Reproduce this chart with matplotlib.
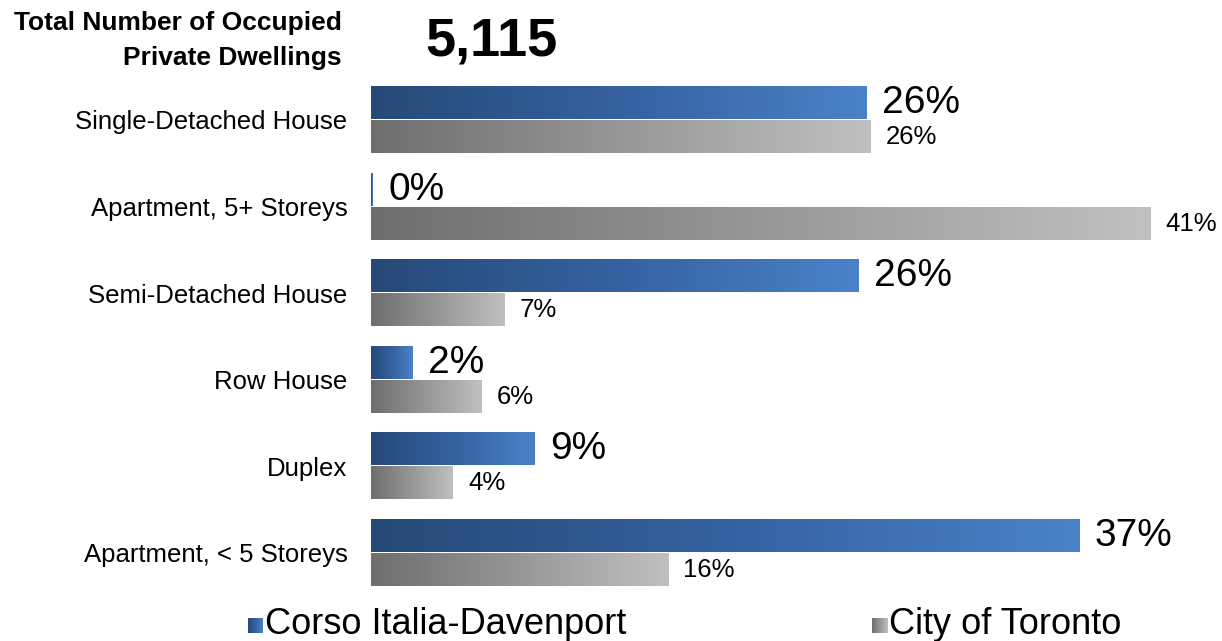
import numpy as np
import matplotlib
matplotlib.use("Agg")
import matplotlib.pyplot as plt
from matplotlib.colors import LinearSegmentedColormap

plt.rcParams['font.family'] = ['Liberation Sans', 'DejaVu Sans']

categories = ["Single-Detached House", "Apartment, 5+ Storeys", "Semi-Detached House",
              "Row House", "Duplex", "Apartment, < 5 Storeys"]
corso = [26.0, 0.1, 25.6, 2.2, 8.6, 37.2]
toronto = [26.2, 40.9, 7.0, 5.8, 4.3, 15.6]
series_names = ["Corso Italia-Davenport", "City of Toronto"]
total_label = "Total Number of Occupied"
total_label2 = "Private Dwellings"
total_value = "5,115"

blue_cm = LinearSegmentedColormap.from_list("b", ["#264a77", "#3561a0", "#4a82c8"])
gray_cm = LinearSegmentedColormap.from_list("g", ["#6e6e6e", "#c0c0c0"])
grad = np.linspace(0, 1, 256).reshape(1, -1)

W, H = 1222, 641
fig = plt.figure(figsize=(W / 100, H / 100), dpi=100)

# axes: x=0 at px 371, 19.05 px per unit; group 0 centre at px 120, 86.6 px apart
x0 = 371
ppu = 19.05
xmax = (W - x0) / ppu
top_px = 120 - 0.55 * 86.6
bot_px = 120 + 5.6 * 86.6
ax = fig.add_axes([x0 / W, 1 - bot_px / H, 1 - x0 / W, (bot_px - top_px) / H])

bh = 0.37
off = 0.196
for i, (a, b) in enumerate(zip(corso, toronto)):
    yb = i - off
    yg = i + off
    ax.imshow(grad, cmap=blue_cm, extent=(0, a, yb + bh / 2, yb - bh / 2),
              aspect='auto', interpolation='bilinear')
    ax.imshow(grad, cmap=gray_cm, extent=(0, b, yg + bh / 2, yg - bh / 2),
              aspect='auto', interpolation='bilinear')
    ax.text(a + 0.8, yb, f"{a:.0f}%", fontsize=28, va='center', ha='left')
    ax.text(b + 0.8, yg, f"{b:.0f}%", fontsize=18.5, va='center', ha='left')

ax.set_xlim(0, xmax)
ax.set_ylim(5.6, -0.55)
ax.set_yticks(range(len(categories)))
ax.set_yticklabels(categories, fontsize=18.5)
ax.tick_params(axis='y', length=0, pad=17)
ax.set_xticks([])
for s in ax.spines.values():
    s.set_visible(False)

fig.text(342 / W, 1 - 23 / H, total_label, ha='right', va='center',
         fontsize=19, fontweight='bold')
fig.text(342 / W, 1 - 58 / H, total_label2, ha='right', va='center',
         fontsize=19, fontweight='bold')
fig.text(491 / W, 1 - 42 / H, total_value, ha='center', va='center',
         fontsize=39, fontweight='bold')

# legend
for xs, cm, name in [(248, blue_cm, series_names[0]), (872, gray_cm, series_names[1])]:
    lax = fig.add_axes([xs / W, 1 - 633 / H, 15 / W, 15 / H])
    lax.imshow(grad, cmap=cm, aspect='auto', interpolation='bilinear')
    lax.axis('off')
    fig.text((xs + 17) / W, 1 - 624 / H, name, ha='left', va='center', fontsize=26)

fig.savefig("out.png", dpi=100)
